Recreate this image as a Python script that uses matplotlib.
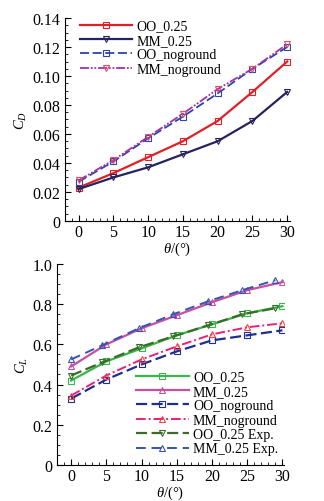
import matplotlib
matplotlib.use("Agg")
import matplotlib.pyplot as plt
from matplotlib.ticker import MultipleLocator, FuncFormatter

plt.rcParams["font.family"] = ["Liberation Serif", "DejaVu Serif"]
plt.rcParams["mathtext.fontset"] = "custom"
plt.rcParams["mathtext.it"] = "Liberation Serif:italic"
plt.rcParams["mathtext.rm"] = "Liberation Serif"

theta = [0, 5, 10, 15, 20, 25, 30]
theta_exp = [0, 4.4, 9.6, 14.5, 19.5, 24.3, 29.0]

# drag coefficient
cd_oo_025 = [0.023, 0.033, 0.044, 0.055, 0.069, 0.089, 0.110]
cd_mm_025 = [0.022, 0.030, 0.037, 0.046, 0.055, 0.069, 0.089]
cd_oo_nog = [0.027, 0.041, 0.057, 0.072, 0.088, 0.105, 0.120]
cd_mm_nog = [0.028, 0.042, 0.058, 0.074, 0.091, 0.105, 0.122]

# lift coefficient
cl_oo_025 = [0.42, 0.515, 0.58, 0.645, 0.70, 0.755, 0.79]
cl_mm_025 = [0.49, 0.60, 0.68, 0.745, 0.81, 0.87, 0.91]
cl_oo_nog = [0.33, 0.425, 0.50, 0.565, 0.62, 0.645, 0.67]
cl_mm_nog = [0.345, 0.445, 0.525, 0.59, 0.65, 0.685, 0.705]
cl_oo_exp = [0.445, 0.51, 0.585, 0.64, 0.695, 0.75, 0.78]
cl_mm_exp = [0.525, 0.595, 0.68, 0.75, 0.815, 0.87, 0.92]

fs = 10
tfs = 11.5


def style_axes(ax):
    ax.spines["top"].set_visible(False)
    ax.spines["right"].set_visible(False)
    ax.tick_params(which="both", direction="in", labelsize=tfs)
    ax.tick_params(which="major", length=4)
    ax.tick_params(which="minor", length=2)
    ax.tick_params(axis="x", pad=2)
    ax.xaxis.set_major_locator(MultipleLocator(5))
    ax.xaxis.set_minor_locator(MultipleLocator(1))
    ax.set_xlabel(r"$\theta$/(°)", fontsize=fs + 0.5, labelpad=0)


def fmt(decimals):
    def f(v, pos):
        if abs(v) < 1e-9:
            return "0"
        return "%.*f" % (decimals, v)
    return FuncFormatter(f)


fig = plt.figure(figsize=(3.24, 5.02), dpi=100)

ax1 = fig.add_axes([0.200, 0.558, 0.695, 0.404])
mk = dict(markersize=5, markerfacecolor="none", markeredgewidth=0.8)
ax1.plot(theta, cd_oo_025, color="#e01f26", lw=1.6, marker="s", label="OO_0.25", **mk)
ax1.plot(theta, cd_mm_025, color="#25235e", lw=1.6, marker="v", label="MM_0.25", **mk)
ax1.plot(theta, cd_oo_nog, color="#2b45a8", lw=1.3, ls=(0, (5, 2)), marker="s",
         label="OO_noground", **mk)
ax1.plot(theta, cd_mm_nog, color="#a531a8", lw=1.3, ls=(0, (5, 1, 1, 1, 1, 1)), marker="v",
         markeredgecolor="#e84a5f", label="MM_noground", markersize=5,
         markerfacecolor="none", markeredgewidth=0.8)
ax1.set_xlim(-2, 30.4)
ax1.set_ylim(0, 0.14)
ax1.yaxis.set_major_locator(MultipleLocator(0.02))
ax1.yaxis.set_minor_locator(MultipleLocator(0.005))
ax1.yaxis.set_major_formatter(fmt(2))
style_axes(ax1)
ax1.set_ylabel(r"$C_D$", fontsize=fs + 0.5, labelpad=2)
ax1.legend(loc="upper left", bbox_to_anchor=(0.01, 1.055), frameon=False, fontsize=fs,
           handlelength=3.8, handletextpad=0.3, labelspacing=0.1)

ax2 = fig.add_axes([0.176, 0.072, 0.700, 0.400])
ax2.plot(theta, cl_oo_025, color="#3ab54a", lw=1.6, marker="s", label="OO_0.25", **mk)
ax2.plot(theta, cl_mm_025, color="#c64fa0", lw=1.6, marker="^", label="MM_0.25", **mk)
ax2.plot(theta, cl_oo_nog, color="#1f2f8f", lw=1.6, ls=(0, (5, 2)), marker="s",
         label="OO_noground", **mk)
ax2.plot(theta, cl_mm_nog, color="#ec1e79", lw=1.4, ls=(0, (5, 1.5, 1, 1.5)), marker="^",
         markeredgecolor="#ef4444", label="MM_noground", markersize=5,
         markerfacecolor="none", markeredgewidth=0.8)
ax2.plot(theta_exp, cl_oo_exp, color="#3d6b2b", lw=1.6, ls=(0, (5, 2)), marker="v",
         label="OO_0.25 Exp.", **mk)
ax2.plot(theta_exp, cl_mm_exp, color="#3553b5", lw=1.4, ls=(0, (5, 3)), marker="^",
         label="MM_0.25 Exp.", **mk)
ax2.set_xlim(-2, 30.2)
ax2.set_ylim(0, 1.0)
ax2.yaxis.set_major_locator(MultipleLocator(0.2))
ax2.yaxis.set_minor_locator(MultipleLocator(0.05))
ax2.yaxis.set_major_formatter(fmt(1))
style_axes(ax2)
ax2.set_ylabel(r"$C_L$", fontsize=fs + 0.5, labelpad=2)
ax2.legend(loc="lower right", bbox_to_anchor=(1.03, -0.015), frameon=False, fontsize=fs,
           handlelength=3.8, handletextpad=0.3, labelspacing=0.1)

fig.savefig("out.png", dpi=100)
